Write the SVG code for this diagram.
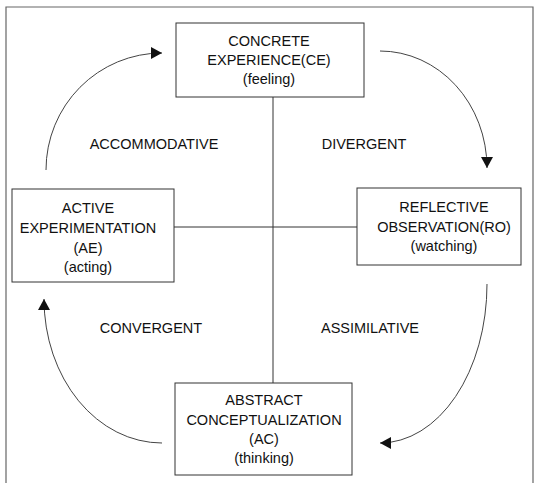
<svg xmlns="http://www.w3.org/2000/svg" width="534" height="483" viewBox="0 0 534 483">
<defs>
<marker id="ah" viewBox="0 0 10 10" refX="10" refY="5" markerWidth="11" markerHeight="12" markerUnits="userSpaceOnUse" orient="auto" preserveAspectRatio="none">
<path d="M0,0 L10,5 L0,10 Z" fill="#111"/>
</marker>
<style>
.box{fill:#fff;stroke:#333;stroke-width:1}
.t{font-family:"Liberation Sans",Arial,sans-serif;font-size:14.5px;fill:#111;text-anchor:middle}
.ln{fill:none;stroke:#333;stroke-width:1}
.arc{fill:none;stroke:#444;stroke-width:1;marker-end:url(#ah)}
</style>
</defs>
<rect width="534" height="483" fill="#fff"/>
<path d="M6,483 V7 H533 V483" fill="none" stroke="#666" stroke-width="1.2"/>
<g id="connectors">
<line class="ln" x1="273" y1="97" x2="273" y2="383"/>
<line class="ln" x1="174" y1="227" x2="357" y2="227"/>
<path class="arc" d="M46,170 A116,117 0 0 1 162,53"/>
<path class="arc" d="M380,51 A107,117 0 0 1 487,168"/>
<path class="arc" d="M487,284 A107,159 0 0 1 380,443"/>
<path class="arc" d="M162,443 A118,144 0 0 1 44,299"/>
</g>
<g id="CE">
<rect class="box" x="176" y="23" width="188" height="74"/>
<text class="t" x="269" y="46">CONCRETE</text>
<text class="t" x="269" y="65">EXPERIENCE(CE)</text>
<text class="t" x="269" y="84">(feeling)</text>
</g>
<g id="AE">
<rect class="box" x="12" y="189" width="162" height="93"/>
<text class="t" x="88" y="213">ACTIVE</text>
<text class="t" x="88" y="233">EXPERIMENTATION</text>
<text class="t" x="88" y="253">(AE)</text>
<text class="t" x="88" y="272">(acting)</text>
</g>
<g id="RO">
<rect class="box" x="357" y="188" width="164" height="77"/>
<text class="t" x="444" y="212">REFLECTIVE</text>
<text class="t" x="444" y="232">OBSERVATION(RO)</text>
<text class="t" x="444" y="251">(watching)</text>
</g>
<g id="AC">
<rect class="box" x="175" y="383" width="177" height="92"/>
<text class="t" x="264" y="405">ABSTRACT</text>
<text class="t" x="264" y="425">CONCEPTUALIZATION</text>
<text class="t" x="264" y="444">(AC)</text>
<text class="t" x="264" y="463">(thinking)</text>
</g>
<g id="labels">
<text class="t" x="154" y="149">ACCOMMODATIVE</text>
<text class="t" x="364" y="149">DIVERGENT</text>
<text class="t" x="151" y="333">CONVERGENT</text>
<text class="t" x="370" y="333">ASSIMILATIVE</text>
</g>
</svg>
